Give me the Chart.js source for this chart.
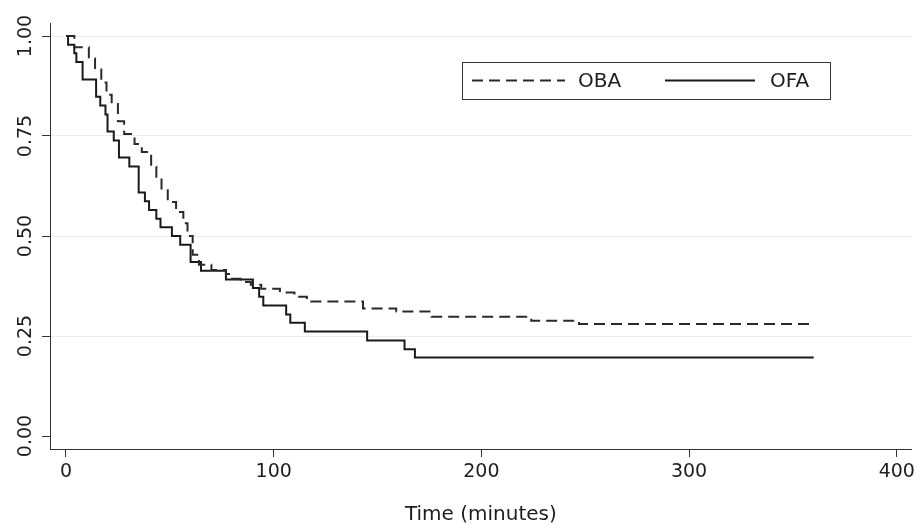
<!DOCTYPE html>
<html>
<head>
<meta charset="utf-8">
<script src="https://cdn.jsdelivr.net/npm/chart.js@4.4.1/dist/chart.umd.min.js"></script>
<style>
body { margin: 0; background: #fff; }
#wrap { width: 919px; height: 525px; }
</style>
</head>
<body>
<div id="wrap"><canvas id="kmChart" width="919" height="525"></canvas></div>
<script>
// Kaplan-Meier curves
const obaTime = [0, 4, 11, 14, 17, 19.5, 22, 25, 28, 33, 36.5, 41, 43.5, 46, 49, 53, 56.5, 58.5, 61, 64, 70, 77, 80, 84, 89, 94, 103, 110, 116, 143, 159, 176, 224, 247, 360];
const obaSurv = [1, 0.972, 0.944, 0.916, 0.884, 0.853, 0.83, 0.787, 0.755, 0.73, 0.71, 0.673, 0.648, 0.619, 0.585, 0.56, 0.532, 0.5, 0.453, 0.428, 0.415, 0.405, 0.393, 0.385, 0.378, 0.368, 0.359, 0.348, 0.336, 0.319, 0.311, 0.298, 0.288, 0.28, 0.28];

const ofaTime = [0, 1, 4, 5, 8, 14.5, 16.5, 19, 20, 23, 25.5, 30.5, 35, 38, 40, 43.5, 45.5, 51, 55, 60, 65, 77, 90, 93, 95, 106, 108, 115, 145, 163, 168, 360];
const ofaSurv = [1, 0.978, 0.957, 0.935, 0.891, 0.848, 0.826, 0.804, 0.761, 0.739, 0.696, 0.674, 0.609, 0.587, 0.565, 0.543, 0.522, 0.5, 0.478, 0.435, 0.413, 0.391, 0.37, 0.348, 0.326, 0.304, 0.283, 0.261, 0.239, 0.217, 0.196, 0.196];

const seriesNames = ['OBA', 'OFA'];
const xTicks = [0, 100, 200, 300, 400];
const yTicks = [0, 0.25, 0.5, 0.75, 1];
const xTitle = 'Time (minutes)';

const FONT = '"DejaVu Sans", "Liberation Sans", Arial, sans-serif';
const INK = '#1e1e1e';

const toPoints = (t, s) => t.map((v, i) => ({ x: v, y: s[i] }));

// legend in a box, drawn inside the plot like the original
const boxLegend = {
  id: 'boxLegend',
  afterDatasetsDraw(chart) {
    const ctx = chart.ctx;
    const ds = chart.data.datasets;
    const left = 462, top = 62, right = 830, bottom = 99;
    const midY = (top + bottom) / 2;
    ctx.save();
    ctx.fillStyle = '#fff';
    ctx.fillRect(left, top, right - left, bottom - top);
    ctx.strokeStyle = '#333';
    ctx.lineWidth = 1;
    ctx.strokeRect(left + 0.5, top + 0.5, right - left, bottom - top);

    const items = [
      { x0: 472, x1: 565, tx: 578 },
      { x0: 665, x1: 755, tx: 770 }
    ];
    items.forEach((it, i) => {
      ctx.beginPath();
      ctx.setLineDash(ds[i].borderDash || []);
      ctx.strokeStyle = ds[i].borderColor;
      ctx.lineWidth = ds[i].borderWidth;
      ctx.moveTo(it.x0, midY);
      ctx.lineTo(it.x1, midY);
      ctx.stroke();
      ctx.setLineDash([]);
      ctx.fillStyle = INK;
      ctx.font = '20px ' + FONT;
      ctx.textAlign = 'left';
      ctx.textBaseline = 'middle';
      ctx.fillText(ds[i].label, it.tx, midY + 1);
    });
    ctx.restore();
  }
};

const kmChart = new Chart(document.getElementById('kmChart'), {
  type: 'line',
  data: {
    datasets: [
      {
        label: seriesNames[0],
        data: toPoints(obaTime, obaSurv),
        stepped: true,
        borderColor: '#2a2a2a',
        borderWidth: 2,
        borderDash: [11, 6],
        pointRadius: 0,
        fill: false
      },
      {
        label: seriesNames[1],
        data: toPoints(ofaTime, ofaSurv),
        stepped: true,
        borderColor: '#1a1a1a',
        borderWidth: 2,
        pointRadius: 0,
        fill: false
      }
    ]
  },
  options: {
    responsive: false,
    animation: false,
    layout: { padding: { top: 23, right: 6, left: 0, bottom: 0 } },
    plugins: {
      legend: { display: false },
      tooltip: { enabled: false }
    },
    scales: {
      x: {
        type: 'linear',
        min: -7.7,
        max: 407.2,
        afterBuildTicks: s => { s.ticks = xTicks.map(v => ({ value: v })); },
        afterFit: s => { s.height = 76; },
        border: { color: '#333', width: 1 },
        grid: { drawOnChartArea: false, drawTicks: true, tickLength: 8, tickColor: '#333' },
        ticks: { color: INK, font: { family: FONT, size: 19 }, padding: 4, maxRotation: 0, autoSkip: false },
        title: {
          display: true,
          text: xTitle,
          color: INK,
          font: { family: FONT, size: 20, lineHeight: 1 },
          padding: { top: 0, bottom: 0 }
        }
      },
      y: {
        min: -0.0325,
        max: 1.0325,
        afterBuildTicks: s => { s.ticks = yTicks.map(v => ({ value: v })); },
        afterFit: s => { s.width = 50; },
        border: { color: '#333', width: 1 },
        grid: {
          color: c => (c.tick && c.tick.value === 0 ? 'rgba(0,0,0,0)' : '#ececec'),
          tickColor: '#333',
          tickLength: 8
        },
        ticks: {
          color: INK,
          font: { family: FONT, size: 19 },
          minRotation: 90,
          maxRotation: 90,
          crossAlign: 'center',
          padding: -5,
          autoSkip: false,
          callback: v => Number(v).toFixed(2)
        }
      }
    }
  },
  plugins: [boxLegend]
});
</script>
</body>
</html>
